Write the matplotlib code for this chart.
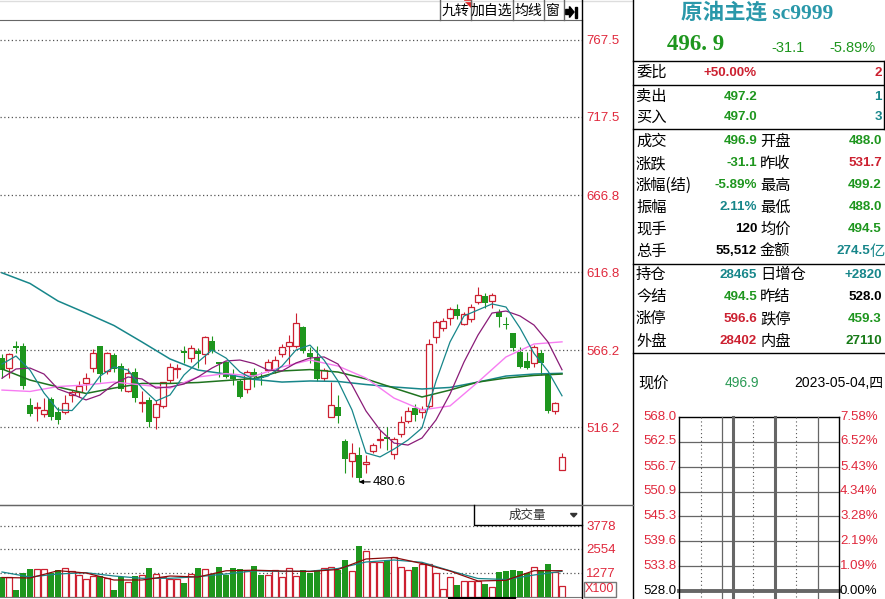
import matplotlib
matplotlib.use("Agg")
import matplotlib.pyplot as plt
import numpy as np
from matplotlib.patches import Polygon, Rectangle

plt.rcParams['font.family'] = ['Liberation Sans', 'Noto Sans CJK SC', 'DejaVu Sans']

# ---- daily candles ----
opens = [561.2, 554.7, 568.8, 568.8, 530.5, 528.4, 524.5, 534.4, 526.2, 526.2,
         537.0, 539.1, 545.0, 554.3, 568.8, 552.6, 563.0, 555.6, 539.6, 551.7,
         532.0, 533.6, 522.9, 530.1, 546.7, 553.7, 565.6, 560.8, 565.7, 563.4,
         572.0, 558.2, 558.2, 550.4, 546.3, 540.7, 551.7, 548.9, 553.2, 553.2,
         563.4, 569.0, 569.0, 581.3, 564.1, 560.8, 547.8, 522.9, 529.2, 507.3,
         494.4, 498.0, 492.0, 500.8, 507.5, 509.9, 498.5, 511.5, 520.3, 528.4,
         526.2, 529.9, 574.8, 580.7, 586.8, 592.6, 582.9, 586.1, 597.5, 601.2,
         598.0, 591.1, 583.1, 577.4, 565.1, 559.3, 557.6, 564.4, 550.0, 526.8,
         488.0]
highs = [563.6, 564.0, 572.0, 570.5, 534.9, 532.6, 535.2, 535.7, 529.0, 537.0,
         540.2, 546.1, 551.1, 566.7, 568.8, 564.7, 564.4, 558.0, 554.3, 554.3,
         539.6, 535.9, 533.6, 545.6, 557.6, 556.9, 568.8, 569.4, 567.3, 575.5,
         575.3, 558.6, 559.1, 553.7, 547.2, 553.2, 554.7, 552.1, 560.4, 562.5,
         569.9, 575.9, 590.0, 582.0, 568.3, 568.8, 554.3, 545.6, 537.0, 508.4,
         505.7, 503.4, 498.0, 506.0, 514.3, 516.4, 509.9, 523.4, 529.4, 531.2,
         529.9, 573.1, 585.7, 586.8, 593.9, 596.1, 590.7, 596.1, 607.3, 603.0,
         603.0, 592.6, 587.8, 577.4, 568.3, 565.1, 569.4, 566.2, 550.0, 532.6,
         499.2]
lows = [548.2, 547.8, 564.4, 540.9, 523.6, 520.1, 522.9, 520.8, 518.0, 524.5,
        532.3, 535.9, 540.2, 552.1, 545.6, 550.4, 551.7, 539.6, 539.0, 532.6,
        526.2, 516.4, 514.7, 528.4, 544.6, 547.8, 558.0, 558.2, 554.3, 556.9,
        564.1, 548.9, 548.2, 543.5, 534.9, 538.5, 542.4, 543.5, 551.7, 551.1,
        561.9, 556.0, 567.3, 564.1, 557.6, 546.3, 546.3, 522.9, 518.6, 486.2,
        484.0, 480.6, 486.2, 499.2, 502.8, 501.3, 495.3, 509.9, 518.6, 520.3,
        521.9, 528.4, 570.9, 578.5, 582.4, 586.1, 582.4, 584.6, 595.9, 593.3,
        593.3, 581.3, 579.6, 565.7, 554.3, 553.7, 555.4, 550.0, 525.5, 524.7,
        488.0]
closes = [553.2, 563.4, 567.7, 543.0, 524.9, 529.2, 527.1, 522.9, 520.8, 531.8,
          539.1, 542.6, 547.8, 564.1, 550.4, 564.4, 553.7, 540.9, 551.5, 535.2,
          532.6, 519.7, 531.0, 545.2, 555.0, 554.7, 564.1, 567.3, 563.4, 574.4,
          565.6, 557.3, 548.9, 547.2, 535.9, 552.1, 548.9, 547.8, 558.2, 559.5,
          568.3, 571.2, 583.5, 565.7, 561.9, 547.2, 553.2, 530.5, 523.6, 495.3,
          499.2, 482.9, 493.3, 504.5, 508.4, 508.6, 508.2, 519.7, 526.6, 524.0,
          527.7, 569.9, 584.2, 585.0, 592.6, 588.5, 589.4, 594.3, 601.9, 596.9,
          601.9, 587.8, 582.4, 567.3, 555.0, 554.7, 568.3, 558.0, 526.6, 531.7,
          496.9]
volumes = [1080, 1080, 372, 1261, 1474, 1474, 1474, 1261, 1436, 1527,
           1383, 1154, 942, 1117, 1117, 995, 372, 1080, 814, 1117,
           1154, 1543, 1207, 1080, 958, 958, 745, 1224, 1543, 1474,
           1224, 1612, 1154, 1543, 1490, 1399, 1649, 1170, 1154, 1436,
           1048, 1527, 1101, 1436, 1293, 1436, 1527, 1580, 1436, 1968,
           1399, 2713, 2447, 1878, 1878, 1968, 2144, 1580, 1436, 1580,
           1755, 1755, 1261, 408, 1080, 638, 869, 869, 851, 674,
           514, 1330, 1383, 1454, 1383, 1277, 1596, 1419, 1738, 1330,
           568]

# ---- moving average curves, read every 2nd / 4th bar ----
ma5 = [557.1, 562.3, 553.2, 538.3, 527.3, 526.9, 537.0, 549.3, 555.2, 553.2,
       541.5, 533.1, 537.0, 550.0, 558.4, 566.2, 561.0, 551.9, 547.1, 549.3,
       555.8, 566.2, 569.4, 559.7, 546.1, 527.3, 499.4, 496.8, 501.9, 507.8,
       515.6, 546.0, 571.4, 588.3, 592.2, 596.1, 594.1, 580.5, 564.0, 552.5,
       536.5]
ma10 = [547.9, 553.9, 554.5, 550.6, 540.9, 537.6, 533.8, 537.0, 544.1, 548.7,
        547.4, 541.5, 542.2, 544.1, 548.7, 554.5, 559.1, 559.7, 557.4, 553.2,
        552.6, 557.8, 561.0, 561.7, 557.1, 543.5, 526.6, 514.3, 505.8, 504.5,
        509.1, 520.8, 537.6, 558.4, 575.9, 590.2, 591.5, 588.3, 582.4, 571.4,
        553.4]
ma20 = [540.2, 539.3, 542.5, 543.5, 545.4, 543.5, 541.5, 548.7, 550.9, 549.3,
        555.2, 559.7, 555.8, 548.0, 535.0, 527.3, 529.9, 545.4, 561.7, 570.1,
        571.5]
ma30 = [553.9, 546.7, 542.2, 538.0, 541.5, 544.5, 544.5, 545.1, 546.4, 547.7,
        552.6, 553.5, 551.9, 547.4, 541.5, 535.7, 540.2, 545.4, 548.0, 549.7,
        550.6]
ma60 = [616.3, 609.4, 598.0, 590.2, 582.1, 571.4, 560.4, 553.2, 550.6, 547.1,
        545.4, 546.1, 545.8, 543.8, 542.2, 540.9, 541.9, 545.4, 549.3, 550.6,
        551.1]
vol_ma5 = [1037, 1011, 1399, 1277, 904, 904, 1117, 1064, 1394, 1426,
           1383, 1357, 1463, 2022, 2101, 1782, 1383, 851, 888, 1399, 1399]
vol_ma10 = [1330, 1064, 1224, 1293, 1117, 995, 995, 1080, 1224, 1394,
            1357, 1373, 1516, 1862, 1968, 1846, 1399, 984, 931, 1170, 1367]

price_ticks = [516.2, 566.2, 616.8, 666.8, 717.5, 767.5]
vol_ticks = [1277, 2554, 3778]

RED = "#cc2030"
GREEN = "#1e961e"
TXT_RED = "#e0283c"
TEAL = "#17868a"

W, H = 885, 599
fig = plt.figure(figsize=(W / 100, H / 100), dpi=100)


def px_axes(x0, y0, x1, y1):
    return fig.add_axes([x0 / W, 1 - y1 / H, (x1 - x0) / W, (y1 - y0) / H])


idx = np.arange(len(opens))
o, h, l, c = map(np.array, (opens, highs, lows, closes))
up = c >= o
step2 = np.arange(0, len(opens), 2)
step4 = np.arange(0, len(opens), 4)
x_lo, x_hi = -2 / 7, 580 / 7

# ---- price panel ----
ax = px_axes(0, 20, 582, 503)
ax.set_xlim(x_lo, x_hi)
ax.set_ylim(466.9, 780.4)
ax.vlines(idx, l, h, colors=np.where(up, RED, GREEN), lw=0.8, zorder=2)
body_lo = np.minimum(o, c)
body_h = np.maximum(np.abs(c - o), 0.4)
ax.bar(idx[up], body_h[up], bottom=body_lo[up], width=0.72,
       facecolor="white", edgecolor=RED, lw=0.9, zorder=3)
ax.bar(idx[~up], body_h[~up], bottom=body_lo[~up], width=0.72,
       color=GREEN, lw=0, zorder=3)
ax.plot(step4, ma60, color=TEAL, lw=1.1, zorder=4)
ax.plot(step4, ma30, color="#1f731f", lw=1.1, zorder=4)
ax.plot(step4, ma20, color="#f77cf2", lw=1.0, zorder=4)
ax.plot(step2, ma10, color="#8a1c78", lw=0.9, zorder=4)
ax.plot(step2, ma5, color=TEAL, lw=0.9, zorder=4)
low_i = int(np.argmin(l))
ax.annotate(f"{l[low_i]:.1f}", xy=(low_i, l[low_i]), xytext=(low_i + 2.0, l[low_i]),
            fontsize=9.5, va="center", ha="left", color="black",
            arrowprops=dict(arrowstyle="-|>", color="black", lw=0.8,
                            mutation_scale=6, shrinkA=0, shrinkB=0))
ax.yaxis.tick_right()
ax.set_yticks(price_ticks)
ax.set_yticklabels([f"{v:.1f}" for v in price_ticks], color=TXT_RED, fontsize=9.5)
ax.tick_params(axis="y", length=0, pad=3)
ax.set_xticks([])
ax.grid(axis="y", linestyle=(0, (1, 2)), color="#555555", lw=0.9)
for s in ("left", "bottom"):
    ax.spines[s].set_visible(False)
ax.spines["top"].set_color("#666666")
ax.spines["right"].set_color("black")

# ---- volume panel ----
av = px_axes(0, 505, 582, 597)
av.set_xlim(x_lo, x_hi)
av.set_ylim(0, 4894)
v = np.array(volumes)
av.bar(idx[up], v[up], width=0.72, facecolor="white", edgecolor=RED, lw=0.9, zorder=3)
av.bar(idx[~up], v[~up], width=0.72, color=GREEN, lw=0, zorder=3)
av.plot(step4, vol_ma10, color=TEAL, lw=0.9, zorder=4)
av.plot(step4, vol_ma5, color="#8b0a0a", lw=0.9, zorder=4)
av.yaxis.tick_right()
av.set_yticks(vol_ticks)
av.set_yticklabels([str(t) for t in vol_ticks], color=TXT_RED, fontsize=9.5)
av.tick_params(axis="y", length=0, pad=3)
av.set_xticks([])
av.grid(axis="y", linestyle=(0, (1, 2)), color="#555555", lw=0.9)
av.spines["left"].set_visible(False)
av.spines["top"].set_color("#666666")
av.spines["bottom"].set_color("#777777")
av.spines["right"].set_color("black")

# ---- overlay in pixel coordinates: frames, toolbar, quote panel ----
ov = fig.add_axes([0, 0, 1, 1])
ov.set_xlim(0, W)
ov.set_ylim(H, 0)
ov.axis("off")
ov.patch.set_alpha(0)

ov.plot([0, 633], [0.5, 0.5], color="#dddddd", lw=1)
ov.plot([582, 582], [0, H], color="black", lw=1)
ov.plot([633, 633], [0, H], color="black", lw=1)
ov.plot([0, 633], [505, 505], color="#666666", lw=1)

# toolbar buttons
for xs in (439.5, 470.5, 512.5, 543.5, 563.5):
    ov.plot([xs, xs], [0, 20], color="#666666", lw=1)
for label, xc in (("九转", 455), ("加自选", 491.5), ("均线", 528), ("窗", 553)):
    ov.text(xc, 11, label, ha="center", va="center", fontsize=10,
            family=["Noto Sans CJK SC"], color="black")
ov.add_patch(Polygon([[463.5, 0], [470.5, 0], [470.5, 7]], color="#e02020"))
ov.add_patch(Polygon([[565.5, 9.5], [569.5, 9.5], [569.5, 6.5], [574, 12],
                      [569.5, 17.5], [569.5, 14.5], [565.5, 14.5]], color="black"))
ov.add_patch(Rectangle((574.5, 6.5), 2.2, 11, color="black"))

# volume selector box
ov.plot([473.5, 473.5, 582], [505, 525, 525], color="black", lw=1)
ov.text(527, 515.5, "成交量", ha="center", va="center", fontsize=9,
        family=["Noto Sans CJK SC"], color="#333333")
ov.add_patch(Polygon([[570.5, 513.5], [577, 513.5], [573.75, 517]], color="#333333"))
ov.text(585, 589.5, "X100", ha="left", va="center", fontsize=9, color=TXT_RED,
        bbox=dict(boxstyle="square,pad=0.12", fc="white", ec="#777777", lw=1))
ov.plot([449, 515], [598, 598], color="black", lw=1.5)

# quote header
ov.text(757, 13, "原油主连 sc9999", ha="center", va="center", fontsize=15.5,
        weight="bold", color="#2a98aa", family=["Liberation Serif", "Noto Sans CJK SC"])
ov.text(667, 45, "496. 9", ha="left", va="center", fontsize=16.5, weight="bold",
        color=GREEN, family=["Liberation Serif"])
ov.text(805, 48, "-31.1", ha="right", va="center", fontsize=10.5, color=GREEN)
ov.text(876, 48, "-5.89%", ha="right", va="center", fontsize=10.5, color=GREEN)

# bid / ask box
for yy in (60.5, 84.5, 128.5):
    ov.plot([633, 883.5], [yy, yy], color="black", lw=1)
ov.plot([883.5, 883.5], [60.5, 128.5], color="black", lw=1)

LBL = dict(ha="left", va="center", fontsize=11, color="black", family=["Noto Sans CJK SC"])
VAL = dict(va="center", fontsize=9.6, weight="bold")

ov.text(636, 72.5, "委比", **LBL)
ov.text(757, 72.5, "+50.00%", ha="right", color=RED, **VAL)
ov.text(882, 72.5, "2", ha="right", color=RED, **VAL)
ov.text(636, 96.5, "卖出", **LBL)
ov.text(757, 96.5, "497.2", ha="right", color=GREEN, **VAL)
ov.text(882, 96.5, "1", ha="right", color=TEAL, **VAL)
ov.text(636, 117, "买入", **LBL)
ov.text(757, 117, "497.0", ha="right", color=GREEN, **VAL)
ov.text(882, 117, "3", ha="right", color=TEAL, **VAL)

rows = [
    ("成交", "496.9", GREEN, "开盘", "488.0", GREEN),
    ("涨跌", "-31.1", GREEN, "昨收", "531.7", RED),
    ("涨幅(结)", "-5.89%", GREEN, "最高", "499.2", GREEN),
    ("振幅", "2.11%", TEAL, "最低", "488.0", GREEN),
    ("现手", "120", "black", "均价", "494.5", GREEN),
    ("总手", "55,512", "black", "金额", "274.5亿", TEAL),
    ("持仓", "28465", TEAL, "日增仓", "+2820", TEAL),
    ("今结", "494.5", GREEN, "昨结", "528.0", "black"),
    ("涨停", "596.6", RED, "跌停", "459.3", GREEN),
    ("外盘", "28402", RED, "内盘", "27110", "#177a17"),
]
row_y = [141.5, 163.5, 185.5, 207.5, 229.5, 251.5, 274.5, 296.5, 318.5, 341.5]
for (l1, v1, c1, l2, v2, c2), yy in zip(rows, row_y):
    ov.text(636, yy, l1, **LBL)
    ov.text(757, yy, v1, ha="right", color=c1,
            family=["Liberation Sans", "Noto Sans CJK SC"], **VAL)
    ov.text(760, yy, l2, **LBL)
    if v2.endswith("亿"):
        ov.text(870, yy, v2[:-1], ha="right", color=c2, **VAL)
        ov.text(870, yy, "亿", ha="left", va="center", fontsize=11, color=c2,
                family=["Noto Sans CJK SC"])
    else:
        ov.text(882, yy, v2, ha="right", color=c2, **VAL)
for yy in (263.5, 352.5):
    ov.plot([633, 885], [yy, yy], color="black", lw=1)

ov.text(638, 383, "现价", **LBL)
ov.text(742, 383, "496.9", ha="center", va="center", fontsize=10, color="#2a9a55")
ov.text(883, 383, "2023-05-04,四", ha="right", va="center", fontsize=10, color="black")

# intraday mini grid
mini_left = ["568.0", "562.5", "556.7", "550.9", "545.3", "539.6", "533.8", "528.0"]
mini_right = ["7.58%", "6.52%", "5.43%", "4.34%", "3.28%", "2.19%", "1.09%", "0.00%"]
mini_y = [416.7, 441.5, 466.5, 491.5, 515.7, 540.7, 565.7, 590.5]
for k, (a, b, yy) in enumerate(zip(mini_left, mini_right, mini_y)):
    last = k == len(mini_y) - 1
    col = "black" if last else TXT_RED
    ov.text(677, yy, a, ha="right", va="center", fontsize=9.5, color=col)
    ov.text(840, yy, b, ha="left", va="center", fontsize=9.5, color=col)
    if k == 0:
        ov.plot([678.5, 838.5], [yy, yy], color="black", lw=1)
    else:
        ov.plot([678.5, 838.5], [yy, yy], color="#666666", lw=2.8 if last else 0.9)
ov.plot([678.5, 678.5], [416.7, H], color="black", lw=1)
ov.plot([838.5, 838.5], [416.7, H], color="black", lw=1)
for xs in (700.7, 753.3, 796.0):
    ov.plot([xs, xs], [416.7, H], color="#555555", lw=0.8, linestyle=(0, (1, 2.5)))
for xs in (722.3, 817.7):
    ov.plot([xs, xs], [416.7, H], color="#666666", lw=0.9)
for xs in (733.3, 775.0):
    ov.plot([xs, xs], [416.7, H], color="#666666", lw=2.2)

fig.savefig("out.png", dpi=100, facecolor="white")
